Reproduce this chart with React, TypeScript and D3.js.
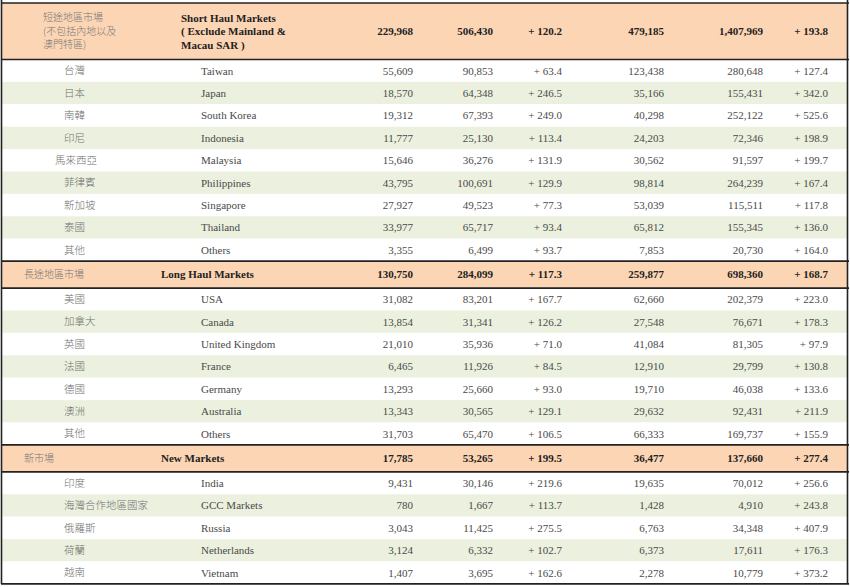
import React from "react";
import * as d3 from "d3";

// Row kinds: "g" = market group header, "r" = country row
const rowKinds = ["g","r","r","r","r","r","r","r","r","r","g","r","r","r","r","r","r","r","g","r","r","r","r","r"];
const zhNames = [
  "短途地區市場\n(不包括內地以及\n澳門特區)", "台灣", "日本", "南韓", "印尼", "馬來西亞", "菲律賓", "新加坡", "泰國", "其他",
  "長途地區市場", "美國", "加拿大", "英國", "法國", "德國", "澳洲", "其他",
  "新市場", "印度", "海灣合作地區國家", "俄羅斯", "荷蘭", "越南",
];
const enNames = [
  "Short Haul Markets\n( Exclude Mainland &\nMacau SAR )", "Taiwan", "Japan", "South Korea", "Indonesia", "Malaysia", "Philippines", "Singapore", "Thailand", "Others",
  "Long Haul Markets", "USA", "Canada", "United Kingdom", "France", "Germany", "Australia", "Others",
  "New Markets", "India", "GCC Markets", "Russia", "Netherlands", "Vietnam",
];
const monthPrev = [229968, 55609, 18570, 19312, 11777, 15646, 43795, 27927, 33977, 3355,
  130750, 31082, 13854, 21010, 6465, 13293, 13343, 31703,
  17785, 9431, 780, 3043, 3124, 1407];
const monthCurr = [506430, 90853, 64348, 67393, 25130, 36276, 100691, 49523, 65717, 6499,
  284099, 83201, 31341, 35936, 11926, 25660, 30565, 65470,
  53265, 30146, 1667, 11425, 6332, 3695];
const monthChange = [120.2, 63.4, 246.5, 249.0, 113.4, 131.9, 129.9, 77.3, 93.4, 93.7,
  117.3, 167.7, 126.2, 71.0, 84.5, 93.0, 129.1, 106.5,
  199.5, 219.6, 113.7, 275.5, 102.7, 162.6];
const ytdPrev = [479185, 123438, 35166, 40298, 24203, 30562, 98814, 53039, 65812, 7853,
  259877, 62660, 27548, 41084, 12910, 19710, 29632, 66333,
  36477, 19635, 1428, 6763, 6373, 2278];
const ytdCurr = [1407969, 280648, 155431, 252122, 72346, 91597, 264239, 115511, 155345, 20730,
  698360, 202379, 76671, 81305, 29799, 46038, 92431, 169737,
  137660, 70012, 4910, 34348, 17611, 10779];
const ytdChange = [193.8, 127.4, 342.0, 525.6, 198.9, 199.7, 167.4, 117.8, 136.0, 164.0,
  168.7, 223.0, 178.3, 97.9, 130.8, 133.6, 211.9, 155.9,
  277.4, 256.6, 243.8, 407.9, 176.3, 373.2];

const W = 850;
const H = 587;
const TOP = 3;
const ROW_H = 22.4;
const GROUP_H = 27;
const FIRST_GROUP_H = 56.5;
const COL_RIGHT = [413, 493, 562, 664, 763, 828];
const ORANGE = "#fcd5b4";
const GREEN = "#ebf1de";
const SERIF = "'Liberation Serif', 'Times New Roman', serif";
const CJK = "'Noto Sans CJK TC', 'Noto Sans CJK SC', sans-serif";

const fmtNum = d3.format(",");
const fmtPct = (v: number) => "+ " + d3.format(".1f")(v);

export default function App() {
  const heights = rowKinds.map((k, i) => (k === "g" ? (i === 0 ? FIRST_GROUP_H : GROUP_H) : ROW_H));
  const ends = Array.from(d3.cumsum(heights));
  const starts = ends.map((e, i) => TOP + e - heights[i]);
  let zebra = 0;

  const rows = rowKinds.map((kind, i) => {
    const y0 = starts[i];
    const h = heights[i];
    const cy = y0 + h / 2;
    const isG = kind === "g";
    let fill = ORANGE;
    if (isG) zebra = 0;
    else {
      fill = zebra % 2 === 0 ? "#ffffff" : GREEN;
      zebra++;
    }
    const vals = [
      fmtNum(monthPrev[i]), fmtNum(monthCurr[i]), fmtPct(monthChange[i]),
      fmtNum(ytdPrev[i]), fmtNum(ytdCurr[i]), fmtPct(ytdChange[i]),
    ];
    const zhLines = zhNames[i].split("\n");
    const enLines = enNames[i].split("\n");
    const lineH = 13.5;
    const zhX = isG ? (i === 0 ? 43 : 24) : (zhNames[i].length === 4 && i === 5 ? 55 : 64);
    const enX = isG ? (i === 0 ? 181 : 161) : 201;
    return (
      <g key={i}>
        <rect x={2} y={y0} width={846} height={h} fill={fill} />
        {zhLines.map((t, j) => (
          <text key={"z" + j} x={zhX} y={cy + (j - (zhLines.length - 1) / 2) * lineH} dy="0.35em"
            fontFamily={CJK} fontSize={isG ? 10 : 10.5} fontWeight={300} fill={isG ? "#777" : "#707070"}>{t}</text>
        ))}
        {enLines.map((t, j) => (
          <text key={"e" + j} x={enX} y={cy + (j - (enLines.length - 1) / 2) * lineH} dy="0.35em"
            fontFamily={SERIF} fontSize={11} fontWeight={isG ? "bold" : "normal"} fill={isG ? "#222" : "#4a4a4a"}>{t}</text>
        ))}
        {vals.map((v, j) => (
          <text key={"v" + j} x={COL_RIGHT[j]} y={cy} dy="0.35em" textAnchor="end"
            fontFamily={SERIF} fontSize={11} fontWeight={isG ? "bold" : "normal"} fill={isG ? "#222" : "#4a4a4a"}>{v}</text>
        ))}
      </g>
    );
  });

  const groupLines: number[] = [];
  rowKinds.forEach((k, i) => {
    if (k === "g") {
      groupLines.push(starts[i]);
      groupLines.push(starts[i] + heights[i]);
    }
  });
  const bottom = TOP + ends[ends.length - 1];

  return (
    <div style={{ position: "absolute", left: 0, top: 0 }}>
      <svg width={W} height={H} style={{ display: "block", background: "#fff" }}>
        {rows}
        {groupLines.map((y, i) => (
          <line key={i} x1={1} x2={849} y1={y} y2={y} stroke="#222" strokeWidth={1.6} />
        ))}
        <line x1={1} x2={849} y1={bottom} y2={bottom} stroke="#222" strokeWidth={1.6} />
        <line x1={1.5} x2={1.5} y1={0} y2={bottom} stroke="#222" strokeWidth={1.6} />
        <line x1={847.5} x2={847.5} y1={0} y2={bottom} stroke="#222" strokeWidth={1.6} />
      </svg>
    </div>
  );
}
